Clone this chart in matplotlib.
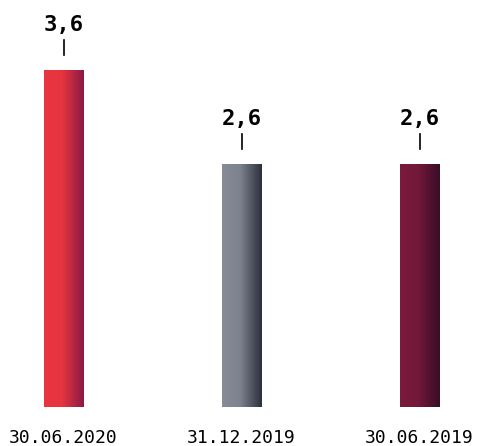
import numpy as np
import matplotlib
matplotlib.use("Agg")
import matplotlib.pyplot as plt
from matplotlib.colors import LinearSegmentedColormap

categories = ["30.06.2020", "31.12.2019", "30.06.2019"]
values = [3.6, 2.6, 2.6]
value_labels = ["3,6", "2,6", "2,6"]
grad_colors = [("#EA3540", "#E6343F", "#8A1A45"),
               ("#878B97", "#7E828E", "#2C303C"),
               ("#7C1A3C", "#721839", "#390D27")]

fig = plt.figure(figsize=(4.84, 4.46), dpi=100)
ax = fig.add_axes([0, 0, 1, 1])
ax.set_xlim(-0.357, 2.362)
ax.set_ylim(-0.4167, 4.348)
ax.axis("off")

x = np.arange(len(categories))
bars = ax.bar(x, values, width=0.22, color="none", edgecolor="none")

grad = np.linspace(0, 1, 256).reshape(1, -1)
for bar, cols, val, lab, cat in zip(bars, grad_colors, values, value_labels, categories):
    x0 = bar.get_x()
    w = bar.get_width()
    h = bar.get_height()
    cmap = LinearSegmentedColormap.from_list("g", [(0, cols[0]), (0.45, cols[1]), (1, cols[2])])
    im = ax.imshow(grad, cmap=cmap, aspect="auto", extent=(x0, x0 + w, 0, h),
                   interpolation="bilinear", zorder=2)
    im.set_clip_path(bar)
    cx = x0 + w / 2
    ax.plot([cx, cx], [h + 15 / 93.6, h + 30 / 93.6], color="black", lw=1.2)
    ax.text(cx, h + 45 / 93.6, lab, ha="center", va="center",
            fontsize=16, fontweight="bold", family="DejaVu Sans Mono")
    ax.text(cx, -31 / 93.6, cat, ha="center", va="center",
            fontsize=13, family="DejaVu Sans Mono")

fig.savefig("out.png", dpi=100)
